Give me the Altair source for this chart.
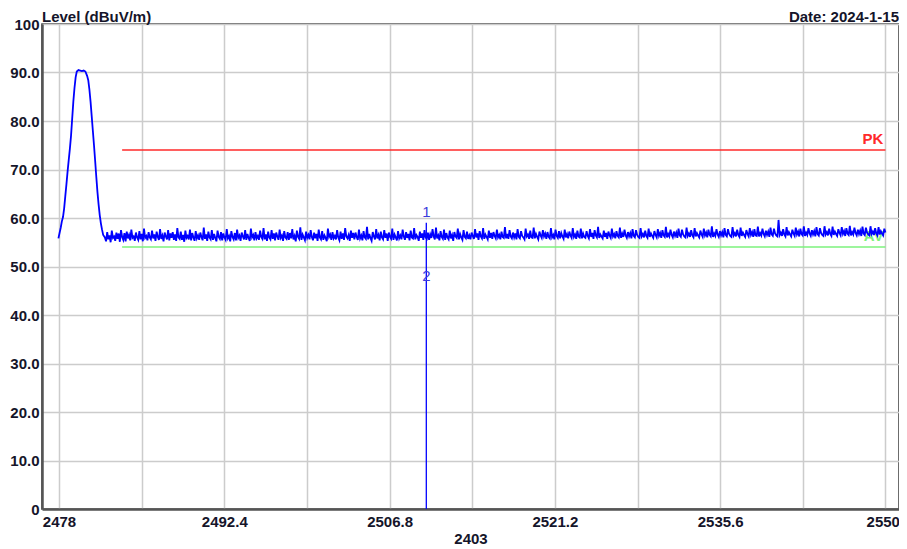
import altair as alt
import numpy as np
import pandas as pd

# ---------------- data ----------------
title_text = "Level (dBuV/m)"
date_text = "Date: 2024-1-15"
x_title = "2403"

x_ticks = [2478, 2485.2, 2492.4, 2499.6, 2506.8, 2514.0, 2521.2, 2528.4, 2535.6, 2542.8, 2550]
x_tick_labels = ["2478", "", "2492.4", "", "2506.8", "", "2521.2", "", "2535.6", "", "2550"]
y_ticks = [0, 10, 20, 30, 40, 50, 60, 70, 80, 90, 100]
y_tick_labels = ["0", "10.0", "20.0", "30.0", "40.0", "50.0", "60.0", "70.0", "80.0", "90.0", "100"]

x_domain = [2476.52, 2551.18]
y_domain = [0, 100]

# carrier (fundamental) region of the sweep
peak_freq = [2477.95, 2478.05, 2478.15, 2478.25, 2478.35, 2478.45, 2478.55, 2478.65, 2478.75,
             2478.85, 2478.95, 2479.05, 2479.15, 2479.25, 2479.35, 2479.45, 2479.55, 2479.7,
             2479.85, 2480.0, 2480.15, 2480.3, 2480.45, 2480.55, 2480.65, 2480.75, 2480.85,
             2480.95, 2481.05, 2481.15, 2481.25, 2481.35, 2481.45, 2481.55, 2481.65, 2481.75,
             2481.85]
peak_level = [55.8, 56.9, 58.0, 59.3, 60.2, 62.0, 64.5, 67.0, 69.6,
              72.0, 74.3, 77.0, 80.5, 84.0, 86.8, 89.0, 90.2, 90.5,
              90.4, 90.3, 90.4, 90.2, 89.3, 88.4, 86.5, 84.0, 81.0,
              78.0, 75.0, 71.8, 68.5, 65.4, 62.8, 60.6, 58.9, 57.6,
              56.5]

# noise floor 2482 .. 2550 MHz (hand-read band)
noise_start, noise_stop = 2482.0, 2550.0
noise_level = [
    56.0, 55.2, 57.1, 55.6, 56.4, 55.0, 57.4, 55.9, 56.2, 55.3, 57.0, 55.7, 56.8, 55.1, 57.5, 56.1, 55.5, 56.9, 55.2, 57.2,
    55.8, 56.5, 55.4, 57.6, 55.9, 56.2, 55.3, 57.0, 56.0, 55.5, 57.3, 55.6, 56.7, 55.2, 57.8, 55.9, 56.3, 55.4, 57.1, 56.0,
    55.6, 57.4, 55.8, 56.6, 55.3, 57.2, 56.1, 55.5, 57.7, 55.7, 56.4, 55.2, 57.0, 56.2, 55.6, 57.5, 55.4, 56.8, 55.9, 57.1,
    55.5, 56.6, 55.3, 57.9, 56.0, 55.7, 57.2, 55.5, 56.5, 55.1, 57.4, 55.9, 56.3, 55.6, 57.6, 55.4, 56.9, 56.0, 55.3, 57.3,
    55.8, 56.4, 55.5, 57.0, 56.1, 55.4, 58.0, 55.7, 56.6, 55.3, 57.2, 56.0, 55.6, 57.5, 55.5, 56.7, 55.9, 55.2, 57.4, 56.1,
    55.7, 57.1, 55.4, 56.8, 56.0, 55.5, 57.7, 55.8, 56.3, 55.2, 57.3, 56.1, 55.6, 56.9, 55.4, 57.6, 55.9, 56.4, 55.3, 57.0,
    56.2, 55.6, 57.5, 55.5, 56.7, 55.9, 55.3, 57.8, 56.0, 56.5, 55.4, 57.1, 55.8, 56.3, 55.5, 57.4, 56.1, 55.7, 57.9, 55.6,
    56.6, 55.3, 57.2, 56.0, 55.6, 57.5, 55.7, 56.8, 55.4, 57.0, 56.2, 55.5, 57.6, 55.9, 56.4, 55.3, 57.3, 56.0, 55.7, 57.1,
    55.5, 56.9, 55.8, 57.7, 55.6, 56.3, 55.2, 57.4, 56.1, 55.7, 58.1, 55.5, 56.6, 56.0, 55.4, 57.2, 55.9, 56.5, 55.6, 57.5,
    56.1, 55.4, 57.0, 55.8, 56.7, 55.3, 57.6, 56.0, 55.6, 57.3, 55.5, 56.4, 55.9, 55.2, 57.8, 56.1, 56.6, 55.5, 57.1, 55.8,
    56.3, 55.6, 57.5, 56.0, 55.4, 57.2, 55.7, 56.8, 55.5, 57.9, 56.2, 55.8, 56.5, 55.3, 57.4, 55.9, 56.9, 55.6, 57.0, 56.1,
    55.5, 57.6, 55.8, 56.4, 55.4, 57.3, 56.0, 55.7, 58.2, 55.6, 56.7, 55.9, 55.3, 57.1, 56.2, 55.6, 57.7, 55.8, 56.5, 55.4,
    57.2, 56.0, 55.6, 57.5, 55.9, 56.8, 55.3, 57.0, 56.1, 55.7, 57.8, 55.5, 56.6, 56.0, 55.4, 57.3, 55.8, 56.4, 55.6, 57.6,
    56.2, 55.5, 57.1, 55.9, 56.7, 55.4, 57.4, 56.0, 55.8, 57.9, 55.6, 56.5, 56.1, 55.3, 57.2, 55.9, 56.8, 55.5, 57.5, 56.0,
    55.7, 57.0, 55.5, 56.6, 55.9, 57.7, 56.2, 55.6, 58.0, 55.8, 56.4, 55.4, 57.3, 56.1, 55.7, 57.6, 55.5, 56.9, 56.0, 55.6,
    57.4, 55.8, 56.5, 55.3, 57.1, 56.2, 55.9, 57.8, 55.6, 56.7, 56.0, 55.5, 57.5, 56.1, 55.8, 57.2, 55.7, 56.4, 55.6, 57.0,
    56.3, 55.7, 57.7, 56.0, 56.8, 55.5, 57.3, 56.2, 55.8, 57.9, 55.7, 56.6, 56.1, 55.6, 57.4, 55.9, 56.9, 55.7, 57.1, 56.3,
    55.8, 57.6, 56.0, 56.5, 55.6, 57.2, 56.1, 55.9, 58.1, 55.8, 56.7, 55.7, 57.5, 56.2, 55.8, 57.0, 56.0, 56.8, 55.6, 57.7,
    56.1, 55.8, 57.3, 56.3, 56.0, 55.6, 57.8, 56.2, 56.6, 55.7, 57.4, 56.0, 55.9, 58.0, 55.8, 56.7, 56.1, 55.6, 57.2, 56.4,
    55.9, 57.5, 56.2, 56.8, 55.7, 57.1, 56.1, 55.8, 57.9, 56.0, 56.5, 55.6, 57.6, 56.3, 55.9, 57.3, 55.8, 56.9, 56.2, 55.7,
    57.6, 56.0, 56.7, 55.8, 57.2, 56.4, 55.9, 57.9, 56.1, 56.6, 55.7, 57.4, 56.2, 56.0, 57.8, 55.8, 56.8, 56.1, 55.9, 57.3,
    56.3, 55.8, 57.7, 56.1, 56.9, 55.7, 57.5, 56.4, 56.0, 58.2, 55.9, 56.6, 56.2, 55.8, 57.4, 56.1, 56.9, 55.7, 57.2, 56.4,
    55.9, 57.8, 56.2, 56.7, 55.8, 57.3, 56.3, 56.0, 58.0, 55.9, 56.8, 56.1, 57.6, 56.4, 55.9, 57.1, 56.2, 56.9, 55.8, 57.7,
    56.3, 56.0, 57.5, 56.5, 56.1, 55.9, 57.9, 56.2, 56.7, 56.0, 57.4, 56.3, 55.9, 57.8, 56.1, 56.8, 56.3, 55.9, 57.3, 56.5,
    56.0, 57.7, 56.3, 56.9, 55.9, 57.5, 56.4, 56.1, 58.2, 56.0, 56.7, 56.2, 57.6, 56.5, 56.0, 57.2, 56.3, 57.0, 55.9, 57.8,
    56.4, 56.1, 57.6, 56.6, 56.2, 56.0, 58.0, 56.3, 56.8, 56.1, 57.5, 56.4, 56.0, 57.9, 56.2, 56.9, 56.4, 56.0, 57.4, 56.6,
    56.1, 57.8, 56.4, 57.0, 56.0, 57.6, 56.5, 56.2, 58.3, 56.1, 56.8, 56.3, 57.7, 56.6, 56.1, 57.3, 56.4, 57.1, 56.0, 57.9,
    56.5, 56.2, 57.7, 56.7, 56.3, 56.1, 58.1, 56.4, 56.9, 56.2, 57.6, 56.5, 56.1, 58.0, 56.3, 57.0, 56.5, 56.1, 57.5, 56.7,
    56.2, 57.9, 56.5, 57.1, 56.1, 57.7, 56.4, 56.3, 58.2, 56.2, 56.9, 56.4, 57.8, 56.7, 56.2, 57.4, 56.5, 57.2, 56.1, 58.0,
    56.6, 56.3, 57.8, 56.8, 56.4, 56.2, 59.6, 56.5, 57.0, 56.3, 57.7, 56.6, 56.2, 58.1, 56.4, 57.1, 56.6, 56.2, 57.6, 56.8,
    56.3, 58.0, 56.6, 57.2, 56.2, 57.8, 56.7, 56.4, 58.3, 56.3, 57.0, 56.5, 57.9, 56.8, 56.3, 57.5, 56.6, 57.3, 56.2, 58.1,
    56.7, 56.4, 57.9, 56.9, 56.5, 56.3, 58.3, 56.6, 57.1, 56.4, 57.8, 56.7, 56.3, 58.2, 56.5, 57.2, 56.7, 56.3, 57.7, 56.9,
    56.4, 58.1, 56.7, 57.3, 56.3, 57.9, 56.8, 56.5, 58.4, 56.4, 57.1, 56.6, 58.0, 56.9, 56.4, 57.6, 56.7, 57.4, 56.3, 58.2,
    56.8, 56.5, 58.0, 57.0, 56.6, 56.4, 58.3, 56.7, 57.2, 56.5, 57.9, 56.8, 56.4, 58.1, 56.6, 57.3, 56.8, 56.4, 57.8, 57.0,
]

# limit lines
limit_names = ["PK", "AV"]
limit_levels = [74.0, 54.0]
limit_start = 2483.5
limit_stop = 2550.0

# marker
marker_freq = 2510.0
marker_top = 59.0
marker_labels = ["1", "2"]
marker_label_levels = [61.3, 48.1]

# ---------------- tables ----------------
noise_freq = np.linspace(noise_start, noise_stop, len(noise_level))
trace = pd.DataFrame({
    "freq": list(peak_freq) + list(noise_freq),
    "level": list(peak_level) + list(noise_level),
})
limits = pd.DataFrame({
    "name": limit_names,
    "level": limit_levels,
    "start": [limit_start] * len(limit_names),
    "stop": [limit_stop] * len(limit_names),
})
marker = pd.DataFrame({"freq": [marker_freq], "bottom": [0.0], "top": [marker_top]})
marker_txt = pd.DataFrame({"freq": [marker_freq] * 2, "level": marker_label_levels, "label": marker_labels})
head = pd.DataFrame({"t": [title_text], "d": [date_text]})

FONT = "Liberation Sans"
TXT = "#15152a"
RED = "#ff2a2a"
GREEN = "#7cf27c"
BLUE = "#0000ff"

W, H = 857, 485

x_expr = "[" + ",".join("'" + s + "'" for s in x_tick_labels) + "][round((datum.value-2478)/7.2)]"
y_expr = "[" + ",".join("'" + s + "'" for s in y_tick_labels) + "][round(datum.value/10)]"

xs = alt.Scale(domain=x_domain, nice=False, zero=False)
ys = alt.Scale(domain=y_domain, nice=False, zero=True)

x_axis = alt.Axis(values=x_ticks, labelExpr=x_expr, title=x_title, grid=True,
                  gridColor="#cccccc", gridWidth=1.5, ticks=False,
                  labelPadding=5, labelFlush=False, labelOverlap=False, labelBound=False,
                  labelAlign={"condition": {"test": "datum.value >= 2550", "value": "right"},
                              "value": "center"},
                  labelOffset={"condition": {"test": "datum.value >= 2550", "value": 14},
                               "value": 0},
                  labelFont=FONT, labelFontSize=15, labelFontWeight="bold", labelColor=TXT,
                  titleFont=FONT, titleFontSize=15, titleFontWeight="bold", titleColor=TXT,
                  titleBaseline="alphabetic", titleY=34,
                  domainColor="#555555", domainWidth=2.5)
y_axis = alt.Axis(values=y_ticks, labelExpr=y_expr, title=None, grid=True,
                  gridColor="#cccccc", gridWidth=1.5, ticks=False,
                  labelPadding=3, labelFlush=False, labelOverlap=False, labelBound=False,
                  labelFont=FONT, labelFontSize=15, labelFontWeight="bold", labelColor=TXT,
                  domainColor="#555555", domainWidth=2.5)


def X(field):
    return alt.X(field, scale=xs, axis=x_axis, title=x_title)


def Y(field):
    return alt.Y(field, scale=ys, axis=y_axis, title=None)


lim_color = alt.Scale(domain=limit_names, range=[RED, GREEN])

limit_rules = alt.Chart(limits).mark_rule(strokeWidth=1.5).encode(
    x=X("start:Q"), x2="stop:Q", y=Y("level:Q"),
    color=alt.Color("name:N", scale=lim_color, legend=None),
)
limit_text = alt.Chart(limits).mark_text(align="right", baseline="bottom", dx=-2, dy=-3,
                                        font=FONT, fontSize=15, fontWeight="bold").encode(
    x=X("stop:Q"), y=Y("level:Q"), text="name:N",
    color=alt.Color("name:N", scale=lim_color, legend=None),
)
trace_line = alt.Chart(trace).mark_line(color=BLUE, strokeWidth=1.8).encode(
    x=X("freq:Q"), y=Y("level:Q"),
)
marker_rule = alt.Chart(marker).mark_rule(color=BLUE, strokeWidth=1.3).encode(
    x=X("freq:Q"), y=Y("bottom:Q"), y2="top:Q",
)
marker_text = alt.Chart(marker_txt).mark_text(color="#3b3bdc", font=FONT, fontSize=15,
                                             baseline="middle").encode(
    x=X("freq:Q"), y=Y("level:Q"), text="label:N",
)
title_mark = alt.Chart(head).mark_text(align="left", baseline="alphabetic", font=FONT,
                                      fontSize=15, fontWeight="bold", color=TXT).encode(
    x=alt.value(0), y=alt.value(-2), text="t:N")
date_mark = alt.Chart(head).mark_text(align="right", baseline="alphabetic", font=FONT,
                                     fontSize=15, fontWeight="bold", color=TXT).encode(
    x=alt.value(W), y=alt.value(-2), text="d:N")

chart = alt.layer(
    limit_rules, limit_text, trace_line, marker_rule, marker_text, title_mark, date_mark
).properties(
    width=W, height=H,
    autosize=alt.AutoSizeParams(type="none"),
    padding={"left": 34, "top": 16, "right": 0, "bottom": 40},
    background="white",
).configure_view(
    stroke="#3c3c3c", strokeWidth=1.5
)

chart.save("out.html", embed_options={"renderer": "svg", "actions": False})
